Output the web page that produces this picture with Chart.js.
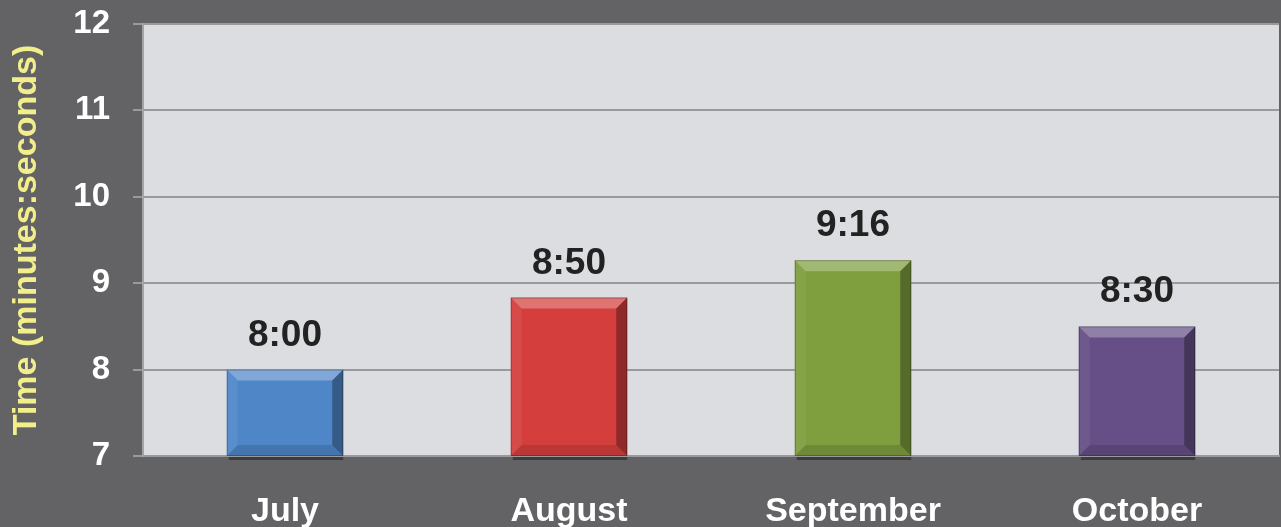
<!DOCTYPE html>
<html>
<head>
<meta charset="utf-8">
<script src="https://cdn.jsdelivr.net/npm/chart.js@4"></script>
<style>
  html, body { margin: 0; padding: 0; background: #636365; }
  #wrap { width: 1281px; height: 527px; }
</style>
</head>
<body>
<div id="wrap"><canvas id="myChart"></canvas></div>
<script>
const months = ['July', 'August', 'September', 'October']
const times = ['8:00', '8:50', '9:16', '8:30']
const barColors = ['#4f86c8', '#d43f3e', '#7f9e3e', '#654f86']
const yMin = 7
const yMax = 12

// "m:ss" -> minutes as a decimal number
function toMinutes(t){
    const parts = t.split(':')
    return Number(parts[0]) + Number(parts[1]) / 60
}

const values = times.map(toMinutes)
const FONT = '"Liberation Sans", Arial, sans-serif'

const plotBg = {
    id: 'plotBg',
    beforeDraw(chart){
        const ctx = chart.ctx
        const a = chart.chartArea
        ctx.save()
        ctx.fillStyle = '#636365'
        ctx.fillRect(0, 0, chart.width, chart.height)
        ctx.fillStyle = '#dcdde0'
        ctx.fillRect(a.left, a.top, a.right - a.left, a.bottom - a.top)
        ctx.restore()
    }
}

// bevel look + value labels on top of each bar
const barDecor = {
    id: 'barDecor',
    afterDatasetsDraw(chart){
        const ctx = chart.ctx
        const meta = chart.getDatasetMeta(0)
        const base = chart.scales.y.getPixelForValue(yMin)
        ctx.save()
        meta.data.forEach((bar, i) => {
            const p = bar.getProps(['x', 'y', 'width'], true)
            const l = p.x - p.width / 2
            const r = p.x + p.width / 2
            const t = p.y
            const b = base
            const s = 11

            // top light band
            ctx.fillStyle = 'rgba(255,255,255,0.28)'
            ctx.beginPath()
            ctx.moveTo(l, t); ctx.lineTo(r, t); ctx.lineTo(r - s, t + s); ctx.lineTo(l + s, t + s)
            ctx.fill()
            // left band
            ctx.fillStyle = 'rgba(255,255,255,0.06)'
            ctx.beginPath()
            ctx.moveTo(l, t); ctx.lineTo(l + s, t + s); ctx.lineTo(l + s, b - s); ctx.lineTo(l, b)
            ctx.fill()
            // right dark band
            ctx.fillStyle = 'rgba(0,0,0,0.32)'
            ctx.beginPath()
            ctx.moveTo(r, t); ctx.lineTo(r, b); ctx.lineTo(r - s, b - s); ctx.lineTo(r - s, t + s)
            ctx.fill()
            // bottom band
            ctx.fillStyle = 'rgba(0,0,0,0.12)'
            ctx.beginPath()
            ctx.moveTo(l, b); ctx.lineTo(r, b); ctx.lineTo(r - s, b - s); ctx.lineTo(l + s, b - s)
            ctx.fill()
            // thin outline
            ctx.strokeStyle = 'rgba(0,0,0,0.25)'
            ctx.lineWidth = 1
            ctx.strokeRect(l + 0.5, t + 0.5, p.width - 1, b - t - 1)

            // shadow under the bar
            ctx.fillStyle = 'rgba(30,30,30,0.55)'
            ctx.fillRect(l + 2, b + 1, p.width - 2, 3)

            // value label
            ctx.fillStyle = '#222222'
            ctx.font = 'bold 37px ' + FONT
            ctx.textAlign = 'center'
            ctx.textBaseline = 'alphabetic'
            ctx.fillText(times[i], p.x, t - 24)
        })
        ctx.restore()
    }
}

const data = {
    labels: months,
    datasets: [{
        label: 'Time',
        data: values,
        backgroundColor: barColors,
        borderWidth: 0,
        barPercentage: 0.41,
        categoryPercentage: 1
    }]
}

const config = {
    type: 'bar',
    data: data,
    options: {
        responsive: true,
        maintainAspectRatio: false,
        animation: false,
        layout: {
            padding: { top: 24, right: 2, left: 0, bottom: 0 }
        },
        plugins: {
            legend: { display: false },
            tooltip: { enabled: false }
        },
        scales: {
            x: {
                grid: { display: false, drawTicks: false },
                border: { display: true, color: '#9a9a9c', width: 2 },
                ticks: {
                    color: '#ffffff',
                    padding: 39,
                    font: { family: FONT, size: 34, weight: 'bold', lineHeight: 1 }
                },
                afterFit(scale){ scale.height = 71 }
            },
            y: {
                min: yMin,
                max: yMax,
                grid: { color: '#9a9a9c', lineWidth: 2, tickLength: 10, tickColor: '#9a9a9c' },
                border: { display: true, color: '#a4a4a6', width: 2 },
                ticks: {
                    stepSize: 1,
                    color: '#ffffff',
                    padding: 23,
                    font: { family: FONT, size: 33, weight: 'bold' }
                },
                title: {
                    display: true,
                    text: 'Time (minutes:seconds)',
                    color: '#f2ee8c',
                    padding: { top: 10, bottom: 0 },
                    font: { family: FONT, size: 34, weight: 'bold', lineHeight: 1 }
                },
                afterFit(scale){
                    scale.width = 143
                    scale.paddingTop = 0
                    scale.paddingBottom = 0
                }
            }
        }
    },
    plugins: [plotBg, barDecor]
}

const myChart = new Chart(document.getElementById('myChart'), config)
</script>
</body>
</html>
